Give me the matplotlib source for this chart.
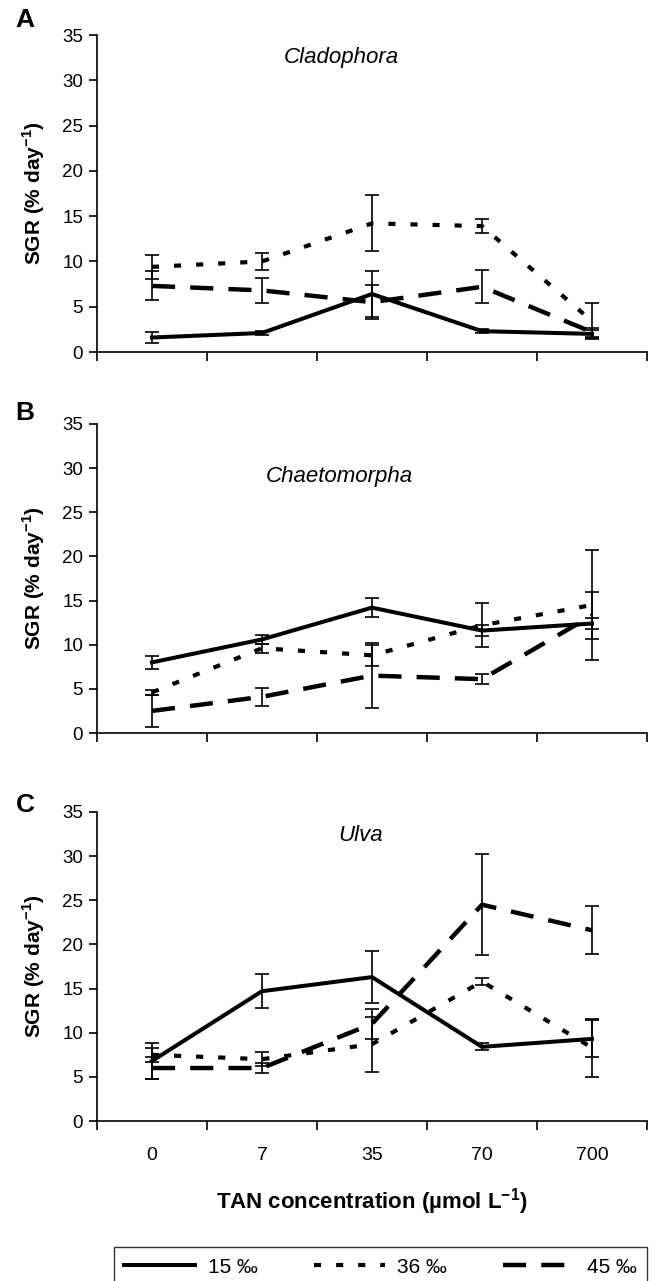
import numpy as np
import matplotlib
matplotlib.use("Agg")
import matplotlib.pyplot as plt
from matplotlib.lines import Line2D

plt.rcParams['font.family'] = ['Liberation Sans', 'DejaVu Sans']
plt.rcParams['mathtext.fontset'] = 'custom'
plt.rcParams['mathtext.rm'] = 'Liberation Sans'
plt.rcParams['mathtext.bf'] = 'Liberation Sans:bold'

# TAN concentration classes (umol L-1)
tan_labels = ["0", "7", "35", "70", "700"]
salinities = ["15 ‰", "36 ‰", "45 ‰"]
species = ["Cladophora", "Chaetomorpha", "Ulva"]
panel_letters = ["A", "B", "C"]

# SGR means and error values, per species, salinity order 15, 36, 45
clad_mean = [[1.6, 2.1, 6.4, 2.3, 2.0],
             [9.4, 10.0, 14.2, 13.9, 3.4],
             [7.3, 6.8, 5.5, 7.2, 2.2]]
clad_err = [[0.6, 0.2, 2.5, 0.2, 0.4],
            [1.3, 0.9, 3.1, 0.8, 2.0],
            [1.6, 1.4, 1.9, 1.8, 0.5]]

chaet_mean = [[8.0, 10.6, 14.2, 11.6, 12.4],
              [4.6, 9.6, 8.8, 12.2, 14.5],
              [2.5, 4.1, 6.5, 6.1, 13.3]]
chaet_err = [[0.7, 0.5, 1.1, 0.6, 0.6],
             [0.3, 0.5, 1.2, 2.5, 6.2],
             [1.8, 1.0, 3.7, 0.6, 2.7]]

ulva_mean = [[6.8, 14.7, 16.3, 8.4, 9.3],
             [7.5, 7.0, 8.7, 15.8, 8.3],
             [6.0, 6.0, 11.0, 24.5, 21.6]]
ulva_err = [[2.0, 1.9, 2.9, 0.4, 2.1],
            [0.8, 0.8, 3.1, 0.4, 3.3],
            [1.2, 0.6, 1.7, 5.7, 2.7]]

means = [clad_mean, chaet_mean, ulva_mean]
errs = [clad_err, chaet_err, ulva_err]

styles = [dict(linestyle='-', lw=2.9),
          dict(linestyle=(0, (1.7, 3.6)), lw=3.0, dash_capstyle='butt'),
          dict(linestyle=(0, (5.2, 3.4)), lw=3.2, dash_capstyle='butt')]

W, H = 666, 1281
fig = plt.figure(figsize=(W / 100, H / 100), dpi=100)

# axes boxes in pixels: (y of 35, y of 0), panel letter y
boxes = [(35, 352), (424, 733), (812, 1121)]
letter_y = [20, 413, 805]
title_pos = [(0.445, 0.93), (0.44, 0.83), (0.48, 0.925)]
x = np.arange(len(tan_labels)) + 0.5

for i, (top, bot) in enumerate(boxes):
    ax = fig.add_axes([97 / W, 1 - bot / H, 550 / W, (bot - top) / H])
    for s in range(3):
        ax.errorbar(x, means[i][s], yerr=errs[i][s], fmt='none', ecolor='black',
                    elinewidth=1.2, capsize=5, capthick=1.2, zorder=2)
        ax.plot(x, means[i][s], color='black', zorder=3, **styles[s])
    ax.set_xlim(0, 5)
    ax.set_ylim(0, 35)
    ax.set_yticks(np.arange(0, 36, 5))
    ax.set_xticks(np.arange(0, 6))
    ax.set_xticklabels([])
    ax.spines['top'].set_visible(False)
    ax.spines['right'].set_visible(False)
    for sp in ['left', 'bottom']:
        ax.spines[sp].set_linewidth(1.2)
    ax.tick_params(axis='y', direction='out', length=6, width=1.2,
                   labelsize=13.5, pad=4)
    ax.tick_params(axis='x', direction='out', length=6.5, width=1.2)
    fig.text(34 / W, 1 - (top + bot) / 2 / H, "SGR (% day$^{\\mathbf{-1}}$)",
             rotation=90, ha='center', va='center', fontsize=15, fontweight='bold')
    ax.text(title_pos[i][0], title_pos[i][1], species[i], transform=ax.transAxes,
            ha='center', va='center', fontsize=16, style='italic')
    fig.text(25 / W, 1 - letter_y[i] / H, panel_letters[i],
             fontsize=19, fontweight='bold', ha='center', va='center')
    if i == 2:
        ax.set_xticks(x, minor=True)
        ax.set_xticklabels(tan_labels, minor=True)
        ax.tick_params(axis='x', which='minor', length=0, pad=19, labelsize=14)

fig.text(372 / W, 1 - 1202 / H, "TAN concentration (µmol L$^{\\mathbf{-1}}$)",
         ha='center', va='center', fontsize=16, fontweight='bold')

handles = [Line2D([], [], color='black', **st) for st in styles]
leg = fig.legend(handles, salinities, ncol=3, loc='lower left',
                 bbox_to_anchor=(114 / W, -6 / H, 533 / W, 48 / H), mode='expand',
                 frameon=True, fancybox=False, edgecolor='black', fontsize=15,
                 handlelength=3.4, handletextpad=0.6, borderaxespad=0,
                 borderpad=0.5, columnspacing=1.5)
leg.get_frame().set_linewidth(1.0)

fig.savefig("out.png", dpi=100)
